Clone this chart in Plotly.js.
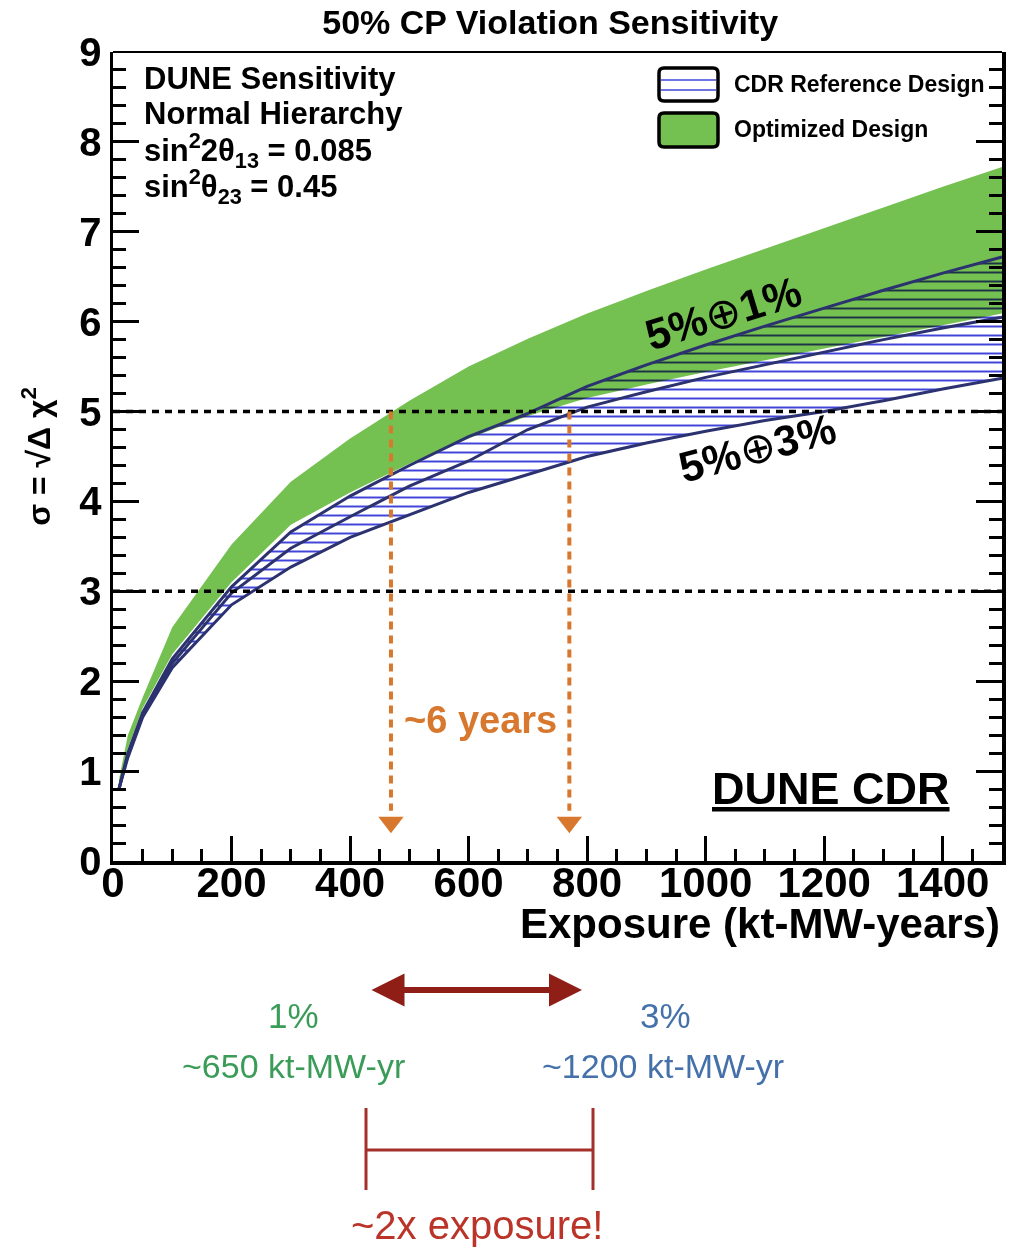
<!DOCTYPE html>
<html>
<head>
<meta charset="utf-8">
<script src="https://cdn.plot.ly/plotly-3.0.1.min.js"></script>
<style>
html, body { margin: 0; padding: 0; background: #fff; }
#chart { width: 1019px; height: 1252px; }
/* hatching darkens where it crosses the green band */
#chart .scatterlayer .fills path { mix-blend-mode: multiply; }
</style>
</head>
<body>
<div id="chart"></div>
<script>
// Exposure grid (kt-MW-years)
const exposure = [10, 25, 50, 100, 200, 300, 400, 500, 600, 700, 800, 900, 1000, 1100, 1200, 1300, 1400, 1500];

// Optimized design band: sigma = sqrt(delta chi^2)
const optUpper = [0.9, 1.4, 1.82, 2.6, 3.52, 4.22, 4.7, 5.12, 5.5, 5.81, 6.09, 6.34, 6.58, 6.81, 7.04, 7.27, 7.5, 7.72];
const optLower = [0.85, 1.25, 1.7, 2.3, 3.1, 3.74, 4.1, 4.42, 4.7, 4.95, 5.15, 5.3, 5.44, 5.57, 5.7, 5.83, 5.96, 6.09];

// CDR reference design curves (upper 5%+1%, middle, lower 5%+3%)
const cdrUpper = [0.8, 1.2, 1.65, 2.25, 3.05, 3.66, 4.06, 4.4, 4.72, 4.98, 5.28, 5.52, 5.74, 5.95, 6.15, 6.35, 6.54, 6.72];
const cdrMiddle = [0.8, 1.18, 1.62, 2.2, 2.98, 3.48, 3.83, 4.17, 4.45, 4.8, 5.05, 5.22, 5.38, 5.52, 5.66, 5.8, 5.93, 6.05];
const cdrLower = [0.8, 1.15, 1.6, 2.15, 2.85, 3.27, 3.6, 3.85, 4.1, 4.3, 4.5, 4.65, 4.78, 4.9, 5.0, 5.12, 5.25, 5.37];

// Reference significance levels and the exposures where 5 sigma is reached
const sigmaLevels = [3, 5];
const reachExposure = [469, 770];

// Text lines of the info block
const infoLines = [
  'DUNE Sensitivity',
  'Normal Hierarchy',
  'sin<sup>2</sup>2θ<sub>13</sub> = 0.085',
  'sin<sup>2</sup>θ<sub>23</sub> = 0.45'
];
const legendLabels = ['CDR Reference Design', 'Optimized Design'];

const navy = '#2c3270';
const green = '#74c152';
const hatchBlue = '#4044d8';
const orange = '#d8782e';
const darkRed = '#8e1e16';
const bold = { family: 'Liberation Sans, Arial, sans-serif', weight: 'bold', color: '#000' };
const plain = 'Liberation Sans, Arial, sans-serif';
const oplus = '<span style="font-weight:normal">⊕</span>';

const traces = [
  { x: exposure, y: optLower, mode: 'lines', line: { width: 0 }, hoverinfo: 'skip' },
  { x: exposure, y: optUpper, mode: 'lines', line: { width: 0 }, fill: 'tonexty', fillcolor: green, hoverinfo: 'skip' },
  { x: exposure, y: cdrLower, mode: 'lines', line: { width: 0 }, hoverinfo: 'skip' },
  { x: exposure, y: cdrUpper, mode: 'lines', line: { width: 0 }, fill: 'tonexty',
    fillcolor: 'rgba(0,0,0,0)',
    fillpattern: { shape: '-', fgcolor: hatchBlue, bgcolor: 'rgba(0,0,0,0)', size: 9, solidity: 0.22 },
    hoverinfo: 'skip' },
  { x: exposure, y: cdrUpper, mode: 'lines', line: { color: navy, width: 3 } },
  { x: exposure, y: cdrMiddle, mode: 'lines', line: { color: navy, width: 3 } },
  { x: exposure, y: cdrLower, mode: 'lines', line: { color: navy, width: 3 } },
  { x: reachExposure, y: reachExposure.map(() => 0.43), mode: 'markers',
    marker: { symbol: 'triangle-down', size: 22, color: orange, line: { width: 0 } } }
];

// Plot area in pixels, used to place decorations in paper units
const L = 113, R = 1002, T = 52, B = 861;
const px = v => (v - L) / (R - L);
const py = v => (B - v) / (B - T);

// rounded rectangle path (pixel corners converted to paper units)
function roundRect(x0, y0, x1, y1, r) {
  const P = (x, y) => px(x).toFixed(5) + ',' + py(y).toFixed(5);
  return 'M' + P(x0 + r, y0) + ' L' + P(x1 - r, y0) + ' Q' + P(x1, y0) + ' ' + P(x1, y0 + r) +
    ' L' + P(x1, y1 - r) + ' Q' + P(x1, y1) + ' ' + P(x1 - r, y1) +
    ' L' + P(x0 + r, y1) + ' Q' + P(x0, y1) + ' ' + P(x0, y1 - r) +
    ' L' + P(x0, y0 + r) + ' Q' + P(x0, y0) + ' ' + P(x0 + r, y0) + ' Z';
}

const shapes = [];
sigmaLevels.forEach(s => shapes.push({
  type: 'line', xref: 'x', yref: 'y', x0: 0, x1: 1500, y0: s, y1: s,
  line: { color: '#000', width: 3.5, dash: '7px,6px' }, layer: 'above'
}));
reachExposure.forEach(e => shapes.push({
  type: 'line', xref: 'x', yref: 'y', x0: e, x1: e, y0: 5, y1: 0.56,
  line: { color: orange, width: 4, dash: '8px,6px' }, layer: 'above'
}));
// thin top frame
shapes.push({ type: 'line', xref: 'paper', yref: 'paper', x0: 0, x1: 1, y0: 1, y1: 1,
  line: { color: '#000', width: 2 } });
// legend swatches
shapes.push({ type: 'path', xref: 'paper', yref: 'paper', path: roundRect(659, 68, 718, 101, 5),
  fillcolor: '#fff', line: { color: '#000', width: 3.5 }, layer: 'above' });
[80, 90].forEach(v => shapes.push({ type: 'line', xref: 'paper', yref: 'paper', x0: px(661), x1: px(716),
  y0: py(v), y1: py(v), line: { color: hatchBlue, width: 1.6 }, layer: 'above' }));
shapes.push({ type: 'path', xref: 'paper', yref: 'paper', path: roundRect(659, 113, 718, 147, 5),
  fillcolor: green, line: { color: '#000', width: 3.5 }, layer: 'above' });
// bracket below the chart
const bracketColor = '#a3302a';
[366, 593].forEach(v => shapes.push({ type: 'line', xref: 'paper', yref: 'paper', x0: px(v), x1: px(v),
  y0: py(1108), y1: py(1190), line: { color: bracketColor, width: 3 } }));
shapes.push({ type: 'line', xref: 'paper', yref: 'paper', x0: px(366), x1: px(593),
  y0: py(1150), y1: py(1150), line: { color: bracketColor, width: 3 } });

const annotations = [];
const infoY = [78, 113, 150, 186];
infoLines.forEach((t, i) => annotations.push({
  xref: 'paper', yref: 'paper', x: px(142), y: py(infoY[i]), xanchor: 'left', yanchor: 'middle',
  text: t, showarrow: false, font: Object.assign({}, bold, { size: 31 })
}));
[84, 129].forEach((v, i) => annotations.push({
  xref: 'paper', yref: 'paper', x: px(732), y: py(v), xanchor: 'left', yanchor: 'middle',
  text: legendLabels[i], showarrow: false, font: Object.assign({}, bold, { size: 23 })
}));
annotations.push({ xref: 'paper', yref: 'paper', x: 1, y: py(923), xanchor: 'right', yanchor: 'middle',
  text: 'Exposure (kt-MW-years)', showarrow: false, font: Object.assign({}, bold, { size: 42 }) });
annotations.push({ xref: 'x', yref: 'y', x: 1030, y: 6.1, text: '5%' + oplus + '1%', textangle: -17,
  xanchor: 'center', yanchor: 'middle', showarrow: false, font: Object.assign({}, bold, { size: 43 }) });
annotations.push({ xref: 'x', yref: 'y', x: 1086, y: 4.6, text: '5%' + oplus + '3%', textangle: -15,
  xanchor: 'center', yanchor: 'middle', showarrow: false, font: Object.assign({}, bold, { size: 43 }) });
annotations.push({ xref: 'x', yref: 'y', x: (reachExposure[0] + reachExposure[1]) / 2, y: 1.57,
  xanchor: 'center', yanchor: 'middle', text: '~6 years', showarrow: false,
  font: { family: bold.family, weight: 'bold', size: 38, color: orange } });
annotations.push({ xref: 'x', yref: 'y', x: 1211, y: 0.81, text: '<u>DUNE CDR</u>',
  xanchor: 'center', yanchor: 'middle', showarrow: false, font: Object.assign({}, bold, { size: 45 }) });
// exposure comparison below the chart
annotations.push({ xref: 'paper', yref: 'paper', axref: 'paper', ayref: 'paper',
  x: px(582), y: py(990), ax: px(370), ay: py(990), text: '', showarrow: true,
  arrowside: 'end+start', arrowhead: 2, arrowsize: 1.1, arrowwidth: 6, arrowcolor: darkRed });
const greenText = '#3a9c58', blueText = '#4571aa';
const lowerTexts = [
  { x: 293, y: 1015, t: '1%', c: greenText, s: 35 },
  { x: 293, y: 1066, t: '~650 kt-MW-yr', c: greenText, s: 34 },
  { x: 665, y: 1015, t: '3%', c: blueText, s: 35 },
  { x: 663, y: 1066, t: '~1200 kt-MW-yr', c: blueText, s: 34 },
  { x: 477, y: 1225, t: '~2x exposure!', c: '#bb3429', s: 40 }
];
lowerTexts.forEach(d => annotations.push({
  xref: 'paper', yref: 'paper', x: px(d.x), y: py(d.y), xanchor: 'center', yanchor: 'middle',
  text: d.t, showarrow: false, font: { family: plain, size: d.s, color: d.c }
}));

const layout = {
  width: 1019, height: 1252,
  margin: { l: L, r: 1019 - R, t: T, b: 1252 - B },
  paper_bgcolor: '#fff', plot_bgcolor: '#fff',
  showlegend: false,
  title: { text: '50% CP Violation Sensitivity', x: 0.54, xanchor: 'center', y: 0.982, yanchor: 'middle',
    font: Object.assign({}, bold, { size: 34 }) },
  xaxis: {
    range: [0, 1500], dtick: 200, tick0: 0, showgrid: false, zeroline: false,
    showline: true, linecolor: '#000', linewidth: 3.5, mirror: false,
    ticks: 'inside', ticklen: 25, tickwidth: 3, tickcolor: '#000',
    minor: { dtick: 50, ticks: 'inside', ticklen: 12, tickwidth: 3, tickcolor: '#000' },
    ticklabelstandoff: -18,
    tickfont: Object.assign({}, bold, { size: 42 })
  },
  yaxis: {
    range: [0, 9], dtick: 1, tick0: 0, showgrid: false, zeroline: false,
    showline: true, linecolor: '#000', linewidth: 3.5, mirror: 'ticks',
    ticks: 'inside', ticklen: 26, tickwidth: 3, tickcolor: '#000',
    minor: { dtick: 0.2, ticks: 'inside', ticklen: 13, tickwidth: 3, tickcolor: '#000' },
    tickfont: Object.assign({}, bold, { size: 40 }),
    title: { text: 'σ = √Δ χ<sup>2</sup>', standoff: 20, font: Object.assign({}, bold, { size: 32 }) }
  },
  shapes: shapes,
  annotations: annotations
};

Plotly.newPlot('chart', traces, layout, { displayModeBar: false, staticPlot: true });
</script>
</body>
</html>
